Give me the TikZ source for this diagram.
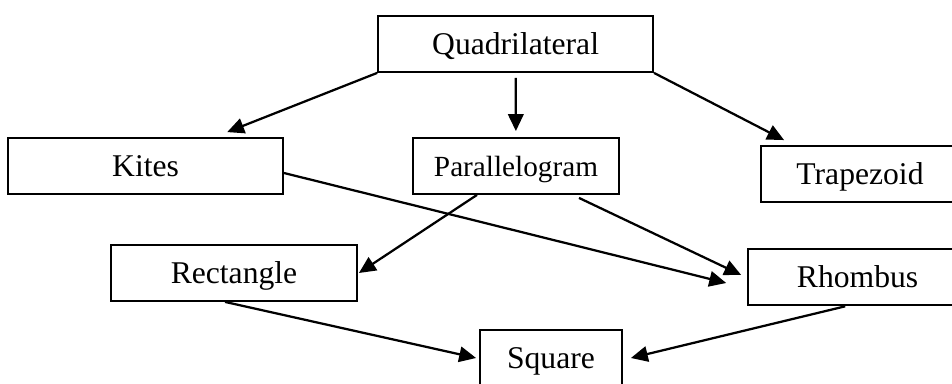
\documentclass[tikz,border=0pt]{standalone}
\usepackage{fontspec}
\setmainfont{Liberation Serif}
\usetikzlibrary{arrows.meta}

\begin{document}
\begin{tikzpicture}[box/.style={draw, line width=1.3pt, inner sep=0pt, minimum height=1.4cm,
        text height=14.85pt, text depth=0pt, font=\fontsize{22.5}{27}\selectfont},
    arr/.style={-{Triangle[length=12pt,width=11pt]}, line width=1.6pt}]
        \useasboundingbox (0,0) rectangle (23.8,9.575);
        \clip (0,0) rectangle (23.8,9.575);
        % the boxes
        \node[box, minimum width=6.875cm] (quad) at (12.89,8.475) {Quadrilateral};
        \node[box, minimum width=6.875cm] (kites) at (3.64,5.425) {Kites};
        \node[box, minimum width=5.15cm, font=\fontsize{20.8}{25}\selectfont] (para) at (12.9,5.425) {Parallelogram};
        \node[box, minimum width=4.95cm] (trap) at (21.5,5.225) {Trapezoid};
        \node[box, minimum width=6.15cm] (rect) at (5.85,2.75) {Rectangle};
        \node[box, minimum width=5.475cm] (rhomb) at (21.44,2.64) {Rhombus};
        \node[box, minimum width=3.55cm] (sq) at (13.775,0.625) {Square};
        % the arrows
        \draw[arr] (quad.south west) -- ([xshift=2.04cm,yshift=0.125cm]kites.north);
        \draw[arr, shorten <=0.125cm, shorten >=0.15cm] (quad) -- (para);
        \draw[arr] (quad.south east) -- ([xshift=0.6cm,yshift=0.125cm]trap.north west);
        \draw[arr] ([yshift=-0.175cm]kites.east) -- ([xshift=-0.525cm,yshift=-0.14cm]rhomb.west);
        \draw[arr] ([xshift=-0.975cm]para.south) -- ([xshift=0.025cm]rect.east);
        \draw[arr] ([xshift=1.575cm,yshift=-0.075cm]para.south) -- ([xshift=-0.15cm,yshift=0.06cm]rhomb.west);
        \draw[arr] ([xshift=-0.225cm]rect.south) -- ([xshift=-0.075cm]sq.west);
        \draw[arr] ([xshift=-0.31cm]rhomb.south) -- ([xshift=0.2cm]sq.east);
\end{tikzpicture}
\end{document}
